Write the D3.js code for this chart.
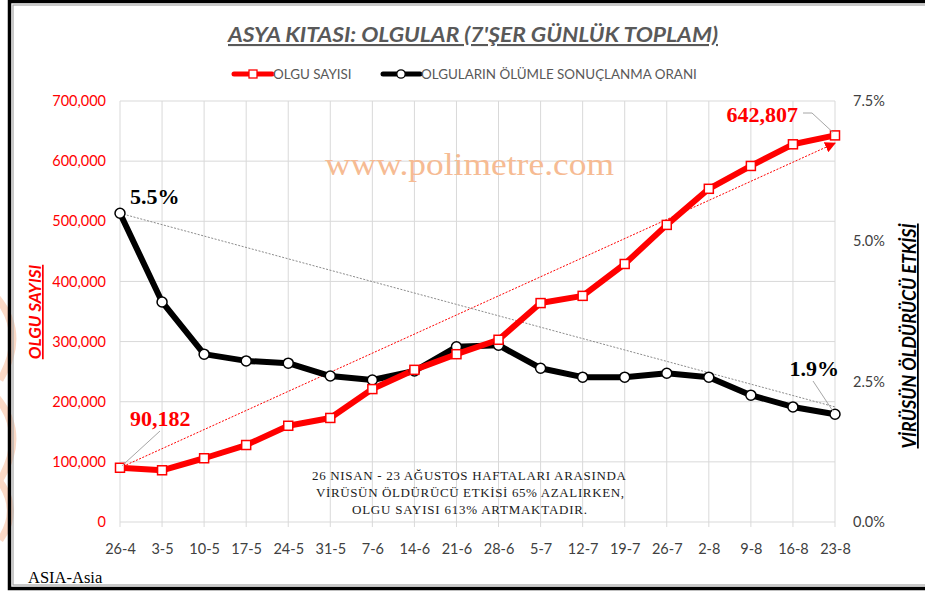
<!DOCTYPE html>
<html>
<head>
<meta charset="utf-8">
<script src="https://cdn.jsdelivr.net/npm/d3@7"></script>
<style>
  body { margin: 0; background: #fff; }
  svg { display: block; }
  .sans { font-family: Lato, "Open Sans", sans-serif; }
  .serif { font-family: "Liberation Serif", "DejaVu Serif", serif; }
</style>
</head>
<body>
<svg id="chart" width="925" height="593"></svg>
<script>
// weekly totals, Asia
var weeks = ["26-4","3-5","10-5","17-5","24-5","31-5","7-6","14-6","21-6","28-6",
             "5-7","12-7","19-7","26-7","2-8","9-8","16-8","23-8"];
var cases = [90182, 86000, 106000, 128000, 160000, 173000, 221000, 253000, 279000, 303000,
             364000, 376000, 429000, 494000, 554000, 592000, 628000, 642807];
var deathRate = [5.5, 3.92, 2.99, 2.87, 2.83, 2.60, 2.53, 2.69, 3.12, 3.15,
                 2.74, 2.58, 2.58, 2.65, 2.58, 2.26, 2.05, 1.92];
// trend lines (start / end values)
var casesTrend = [90182, 630000];
var rateTrend = [5.5, 2.05];
var leftTicks = [0, 100000, 200000, 300000, 400000, 500000, 600000, 700000];
var rightTicks = [0, 2.5, 5.0, 7.5];

var svg = d3.select("#chart");

// faint logo marks at left edge
var wm = svg.append("g").attr("fill", "none").attr("stroke", "#fbd9c6").attr("stroke-width", 7);
wm.append("path").attr("d", "M-10,290 Q30,330 0,380");
wm.append("path").attr("d", "M-10,390 Q30,430 0,480");
wm.append("path").attr("d", "M-10,470 Q25,505 0,540");

// frame
svg.append("rect").attr("x", 9.5).attr("y", 1.5).attr("width", 930).attr("height", 587)
  .attr("fill", "none").attr("stroke", "#000").attr("stroke-width", 3.5);
svg.append("rect").attr("x", 13).attr("y", 5).attr("width", 930).attr("height", 580)
  .attr("fill", "none").attr("stroke", "#a6a6a6").attr("stroke-width", 1.2);

var x = d3.scalePoint().domain(weeks).range([120, 835]);
var yL = d3.scaleLinear().domain([0, 700000]).range([522, 101]);
var yR = d3.scaleLinear().domain([0, 7.5]).range([522, 101]);

// grid
svg.append("g").selectAll("line").data(leftTicks).join("line")
  .attr("x1", 120).attr("x2", 835)
  .attr("y1", d => yL(d)).attr("y2", d => yL(d))
  .attr("stroke", "#d9d9d9").attr("stroke-width", 1);
svg.append("g").selectAll("line").data(weeks).join("line")
  .attr("x1", d => x(d)).attr("x2", d => x(d))
  .attr("y1", 101).attr("y2", 527)
  .attr("stroke", "#d9d9d9").attr("stroke-width", 1);

// axes
var fmt = d3.format(",");
var axL = svg.append("g").attr("transform", "translate(106,0)")
  .call(d3.axisLeft(yL).tickValues(leftTicks).tickFormat(fmt).tickSize(0).tickPadding(0));
axL.select(".domain").remove();
axL.selectAll("text").attr("class", "sans").attr("font-size", 14.5).attr("fill", "#ff0000");

var axR = svg.append("g").attr("transform", "translate(853,0)")
  .call(d3.axisRight(yR).tickValues(rightTicks).tickFormat(d => d.toFixed(1) + "%").tickSize(0).tickPadding(0));
axR.select(".domain").remove();
axR.selectAll("text").attr("class", "sans").attr("font-size", 14.5).attr("fill", "#404040");

var axB = svg.append("g").attr("transform", "translate(0,522)")
  .call(d3.axisBottom(x).tickSize(0).tickPadding(22));
axB.select(".domain").remove();
axB.selectAll("text").attr("class", "sans").attr("font-size", 14.5).attr("fill", "#404040");

// title
svg.append("text").attr("class", "sans").attr("x", 473).attr("y", 42)
  .attr("text-anchor", "middle").attr("font-size", 21).attr("font-weight", "bold")
  .attr("font-style", "italic").attr("fill", "#595959").attr("text-decoration", "underline")
  .attr("textLength", 490).attr("lengthAdjust", "spacingAndGlyphs")
  .text("ASYA KITASI: OLGULAR (7'ŞER GÜNLÜK TOPLAM)");

// legend
var lg = svg.append("g");
lg.append("line").attr("x1", 234).attr("x2", 272).attr("y1", 74).attr("y2", 74)
  .attr("stroke", "#ff0000").attr("stroke-width", 5).attr("stroke-linecap", "round");
lg.append("rect").attr("x", 249).attr("y", 70).attr("width", 8).attr("height", 8)
  .attr("fill", "#fff").attr("stroke", "#ff0000").attr("stroke-width", 1.3);
lg.append("text").attr("class", "sans").attr("x", 273).attr("y", 79).attr("font-size", 13.4)
  .attr("fill", "#595959").text("OLGU SAYISI");
lg.append("line").attr("x1", 383).attr("x2", 420).attr("y1", 74).attr("y2", 74)
  .attr("stroke", "#000").attr("stroke-width", 5).attr("stroke-linecap", "round");
lg.append("circle").attr("cx", 401).attr("cy", 74).attr("r", 4.2)
  .attr("fill", "#fff").attr("stroke", "#000").attr("stroke-width", 1.3);
lg.append("text").attr("class", "sans").attr("x", 421).attr("y", 79).attr("font-size", 13.4)
  .attr("fill", "#595959").text("OLGULARIN ÖLÜMLE SONUÇLANMA ORANI");

// axis titles
svg.append("text").attr("class", "sans")
  .attr("transform", "translate(41,312) rotate(-90)")
  .attr("text-anchor", "middle").attr("font-size", 17).attr("font-weight", "bold")
  .attr("font-style", "italic").attr("fill", "#ff0000").attr("text-decoration", "underline")
  .text("OLGU SAYISI");
svg.append("text").attr("class", "sans")
  .attr("transform", "translate(916,336) rotate(-90)")
  .attr("text-anchor", "middle").attr("font-size", 18).attr("font-weight", "bold")
  .attr("font-style", "italic").attr("fill", "#000").attr("text-decoration", "underline")
  .attr("textLength", 225).attr("lengthAdjust", "spacingAndGlyphs")
  .text("VİRÜSÜN ÖLDÜRÜCÜ ETKİSİ");

// watermark
svg.append("text").attr("class", "serif").attr("x", 325).attr("y", 175)
  .attr("font-size", 32).attr("fill", "#f6bb93")
  .attr("textLength", 289).attr("lengthAdjust", "spacingAndGlyphs")
  .text("www.polimetre.com");

// trend lines
svg.append("defs").append("marker").attr("id", "arr")
  .attr("viewBox", "0 0 10 10").attr("refX", 9).attr("refY", 5)
  .attr("markerWidth", 11).attr("markerHeight", 11).attr("markerUnits", "userSpaceOnUse")
  .attr("orient", "auto")
  .append("path").attr("d", "M0,0L10,5L0,10Z").attr("fill", "#ff0000");
var ends = [weeks[0], weeks[weeks.length - 1]];
svg.append("line")
  .attr("x1", x(ends[0])).attr("y1", yL(casesTrend[0]))
  .attr("x2", x(ends[1])).attr("y2", yL(casesTrend[1]))
  .attr("stroke", "#ff0000").attr("stroke-width", 1).attr("stroke-dasharray", "2,1.5")
  .attr("marker-end", "url(#arr)");
svg.append("line")
  .attr("x1", x(ends[0])).attr("y1", yR(rateTrend[0]))
  .attr("x2", x(ends[1])).attr("y2", yR(rateTrend[1]))
  .attr("stroke", "#8c8c8c").attr("stroke-width", 1).attr("stroke-dasharray", "2,1.5");

// series
var caseLine = d3.line().x((d, i) => x(weeks[i])).y(d => yL(d));
var rateLine = d3.line().x((d, i) => x(weeks[i])).y(d => yR(d));

svg.append("path").datum(deathRate).attr("d", rateLine)
  .attr("fill", "none").attr("stroke", "#000").attr("stroke-width", 6).attr("stroke-linejoin", "round");
svg.append("path").datum(cases).attr("d", caseLine)
  .attr("fill", "none").attr("stroke", "#ff0000").attr("stroke-width", 6).attr("stroke-linejoin", "round");

svg.append("g").selectAll("circle").data(deathRate).join("circle")
  .attr("cx", (d, i) => x(weeks[i])).attr("cy", d => yR(d)).attr("r", 5)
  .attr("fill", "#fff").attr("stroke", "#000").attr("stroke-width", 1.5);
svg.append("g").selectAll("rect").data(cases).join("rect")
  .attr("x", (d, i) => x(weeks[i]) - 4.5).attr("y", d => yL(d) - 4.5)
  .attr("width", 9).attr("height", 9)
  .attr("fill", "#fff").attr("stroke", "#ff0000").attr("stroke-width", 1.5);

// data labels with leader lines
var n = weeks.length - 1;
function leader(x1, y1, x2, y2) {
  svg.append("line").attr("x1", x1).attr("y1", y1).attr("x2", x2).attr("y2", y2)
    .attr("stroke", "#a6a6a6").attr("stroke-width", 1);
}
leader(160, 431, x(weeks[0]) + 2, yL(cases[0]) - 2);
leader(803, 113, 812, 113);
leader(812, 113, x(weeks[n]) - 2, yL(cases[n]) - 3);
leader(813, 381, x(weeks[n]) - 2, yR(deathRate[n]) - 3);

function label(tx, ty, anchor, color, txt) {
  svg.append("text").attr("class", "serif").attr("x", tx).attr("y", ty)
    .attr("text-anchor", anchor).attr("font-size", 22).attr("font-weight", "bold")
    .attr("fill", color).text(txt);
}
label(130, 204, "start", "#000", "5.5%");
label(130, 426, "start", "#ff0000", fmt(cases[0]));
label(798, 122, "end", "#ff0000", fmt(cases[n]));
label(839, 376, "end", "#000", "1.9%");

// note
var note = svg.append("g").attr("class", "serif").attr("font-size", 13).attr("fill", "#1a1a1a");
note.append("text").attr("x", 312).attr("y", 480).attr("textLength", 314).attr("lengthAdjust", "spacing")
  .text("26 NISAN - 23 AĞUSTOS  HAFTALARI ARASINDA");
note.append("text").attr("x", 316).attr("y", 497).attr("textLength", 308).attr("lengthAdjust", "spacing")
  .text("VİRÜSÜN  ÖLDÜRÜCÜ  ETKİSİ  65% AZALIRKEN,");
note.append("text").attr("x", 352).attr("y", 514).attr("textLength", 235).attr("lengthAdjust", "spacing")
  .text("OLGU  SAYISI  613%  ARTMAKTADIR.");

svg.append("text").attr("class", "serif").attr("x", 28).attr("y", 583)
  .attr("font-size", 16.5).attr("fill", "#000").text("ASIA-Asia");
</script>
</body>
</html>
